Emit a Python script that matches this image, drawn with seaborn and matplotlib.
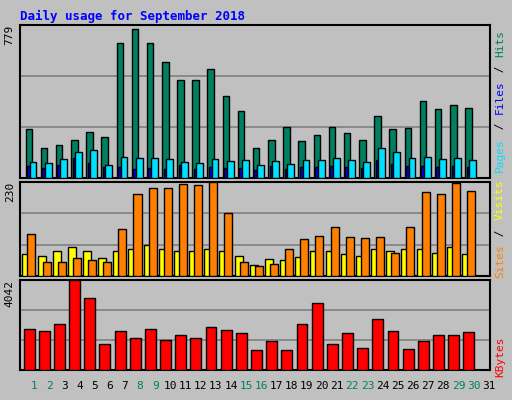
import numpy as np
import matplotlib
matplotlib.use("Agg")
import matplotlib.pyplot as plt
import seaborn as sns

days = list(range(1, 32))
hits = [249,153,168,193,234,209,687,758,687,590,499,499,555,417,341,153,193,260,188,219,260,229,193,316,249,255,392,351,372,356,0]
files = [61,51,66,102,76,56,56,46,51,46,66,46,56,51,51,41,61,46,56,56,61,56,51,92,71,61,61,56,61,56,0]
pages = [81,76,97,132,143,66,107,102,102,97,81,76,97,87,92,66,87,71,92,92,102,92,81,153,132,102,107,97,102,92,0]
sites = [55,50,60,70,60,45,62,65,75,65,62,62,67,62,50,27,42,40,47,62,60,55,50,67,60,65,67,57,72,55,0]
visits = [102,35,35,45,40,35,115,200,215,215,225,222,230,155,35,25,30,65,90,97,120,95,92,95,57,120,205,200,227,207,0]
kbytes = [1833,1739,2068,4042,3243,1175,1739,1457,1833,1363,1551,1457,1927,1786,1645,893,1316,893,2068,3008,1175,1645,987,2303,1739,940,1316,1551,1551,1692,0]
weekend = {1,2,8,9,15,16,22,23,29,30}

sns.set_style("white")
plt.rcParams['font.family'] = ['DejaVu Sans Mono', 'DejaVu Sans']
BG = "#c0c0c0"
W, H = 512, 400
fig = plt.figure(figsize=(5.12, 4.0), dpi=100, facecolor=BG)

def ax_px(x0, y0, x1, y1):
    return fig.add_axes([x0/W, 1-y1/H, (x1-x0)/W, (y1-y0)/H])

x = np.array(days, dtype=float)
panels = [(25, 178, 779), (182, 276, 230), (280, 370, 4042)]
axes = [ax_px(20, a, 490, b) for a, b, _ in panels]
for ax, (_, _, mx) in zip(axes, panels):
    ax.set_facecolor(BG)
    ax.set_xlim(0, 31)
    ax.set_ylim(0, mx)
    for f in (1/3, 2/3):
        ax.axhline(mx*f, color="#808080", lw=1.2, zorder=0)
    ax.set_xticks([]); ax.set_yticks([])
    for s in ax.spines.values():
        s.set_color("black"); s.set_linewidth(1.5)
    ax.text(-0.022, 1.0, str(mx), transform=ax.transAxes, rotation=90,
            ha="center", va="top", fontsize=8, color="black")

kw = dict(edgecolor="black", linewidth=1, zorder=3)
a0 = axes[0]
a0.bar(x-0.42, hits, width=0.43, color="#008060", **kw)
a0.bar(x-0.45, files, width=0.17, color="#0000ff", **kw)
a0.bar(x-0.14, pages, width=0.45, color="#00e0ff", **kw)
a1 = axes[1]
a1.bar(x-0.58, sites, width=0.53, color="#ffff00", **kw)
a1.bar(x-0.25, visits, width=0.53, color="#ff8000", **kw)
a2 = axes[2]
a2.bar(x-0.4, kbytes, width=0.72, color="#ff0000", **kw)

for d in days:
    a2.text(d-0.08, -0.12, str(d), transform=a2.get_xaxis_transform(), ha="center", va="top",
            fontsize=8, color="#008060" if d in weekend else "black")

fig.text(20/W, 1-16/H, "Daily usage for September 2018", color="#0000ff",
         fontsize=9, fontweight="bold", va="center", ha="left")

def side(ycenter, parts):
    # parts listed bottom to top
    total = sum(len(t) for t, _ in parts)
    ch = 7.2
    ystart = ycenter + total*ch/2
    for t, c in parts:
        ymid = ystart - len(t)*ch/2
        fig.text(500/W, 1-ymid/H, t, rotation=90, color=c, fontsize=8,
                 ha="center", va="center")
        ystart -= len(t)*ch

side(101, [("Pages", "#00e0ff"), (" / ", "black"), ("Files", "#0000ff"), (" / ", "black"), ("Hits", "#008060")])
side(229, [("Sites", "#ff8000"), (" / ", "black"), ("Visits", "#ffff00")])
side(357, [("KBytes", "#ff0000")])

fig.savefig("out.png", dpi=100, facecolor=BG)
